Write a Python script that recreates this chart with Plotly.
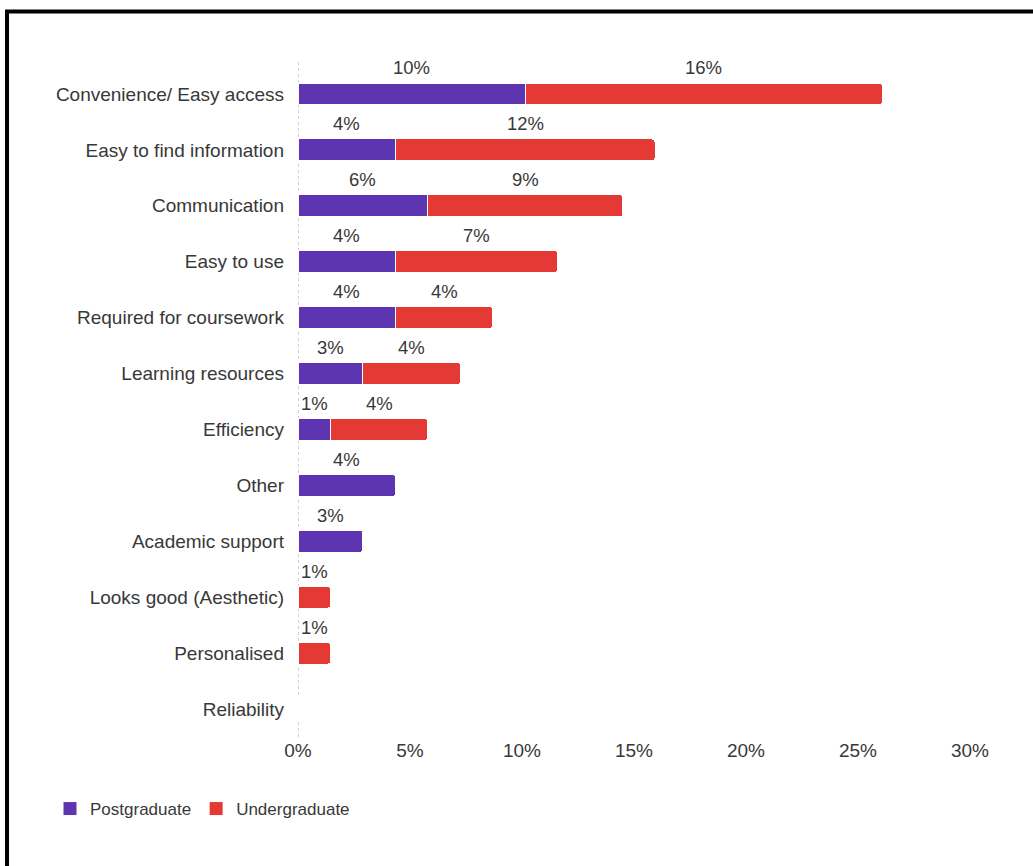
import plotly.graph_objects as go

# Share of respondents (%) giving each reason, split by study level
categories = [
    "Convenience/ Easy access",
    "Easy to find information",
    "Communication",
    "Easy to use",
    "Required for coursework",
    "Learning resources",
    "Efficiency",
    "Other",
    "Academic support",
    "Looks good (Aesthetic)",
    "Personalised",
    "Reliability",
]
postgraduate = [10.14, 4.35, 5.80, 4.35, 4.35, 2.90, 1.45, 4.35, 2.90, 0, 0, 0]
undergraduate = [15.94, 11.59, 8.70, 7.25, 4.35, 4.35, 4.35, 0, 0, 1.45, 1.45, 0]
x_ticks = [0, 5, 10, 15, 20, 25, 30]
x_tick_labels = ["0%", "5%", "10%", "15%", "20%", "25%", "30%"]

PURPLE = "#5e35b1"
RED = "#e53935"
TEXT = "#383838"
FONT = "Liberation Sans, Arial, sans-serif"

W, H = 1033, 866
ML, MR, MT, MB = 298, 63, 66, 129
PW, PH = W - ML - MR, H - MT - MB


def px_x(px):
    return (px - ML) / PW


def px_y(py):
    return (H - MB - py) / PH


fig = go.Figure()
for name, values, color in [("Postgraduate", postgraduate, PURPLE),
                            ("Undergraduate", undergraduate, RED)]:
    fig.add_trace(go.Bar(
        y=categories, x=values, orientation="h", name=name,
        legendgroup=name, showlegend=False,
        marker=dict(color=color, line=dict(color="white", width=1)),
    ))
    # legend entry with a larger square swatch
    fig.add_trace(go.Scatter(
        x=[None], y=[None], mode="markers", name=name, legendgroup=name,
        marker=dict(symbol="square", size=13, color=color),
        hoverinfo="skip",
    ))

# value labels centred above each segment
annotations = []
for cat, pg, ug in zip(categories, postgraduate, undergraduate):
    if pg > 0:
        annotations.append(dict(x=pg / 2, y=cat, xref="x", yref="y",
                                text=f"{pg:.0f}%", showarrow=False, yshift=26,
                                font=dict(size=18.5, color=TEXT, family=FONT)))
    if ug > 0:
        annotations.append(dict(x=pg + ug / 2, y=cat, xref="x", yref="y",
                                text=f"{ug:.0f}%", showarrow=False, yshift=26,
                                font=dict(size=18.5, color=TEXT, family=FONT)))

shapes = [
    # dotted baseline at 0%
    dict(type="line", xref="x", yref="paper", x0=0, x1=0, y0=0, y1=1.006,
         line=dict(color="#d0d0d0", width=2, dash="dot"), layer="below"),
    # black frame along the top and left
    dict(type="rect", xref="paper", yref="paper",
         x0=px_x(7), x1=px_x(1045), y0=px_y(11.5), y1=px_y(880),
         line=dict(color="black", width=4)),
]

fig.update_layout(
    width=W, height=H,
    margin=dict(l=ML, r=MR, t=MT, b=MB),
    barmode="stack", bargap=0.61, barcornerradius=3,
    paper_bgcolor="white", plot_bgcolor="white",
    font=dict(family=FONT, size=19, color=TEXT),
    xaxis=dict(range=[0, 30], tickmode="array", tickvals=x_ticks,
               ticktext=x_tick_labels,
               showgrid=False, zeroline=False, showline=False,
               tickfont=dict(size=19, color=TEXT), fixedrange=True),
    yaxis=dict(categoryorder="array", categoryarray=categories,
               autorange="reversed", showgrid=False, zeroline=False,
               showline=False, ticklabelstandoff=13,
               tickfont=dict(size=19, color=TEXT), fixedrange=True),
    legend=dict(orientation="h", x=px_x(50), y=px_y(809),
                xanchor="left", yanchor="middle",
                font=dict(size=17, color=TEXT, family=FONT),
                itemwidth=30, traceorder="normal", itemsizing="trace"),
    annotations=annotations,
    shapes=shapes,
)

fig.write_html("out.html")
